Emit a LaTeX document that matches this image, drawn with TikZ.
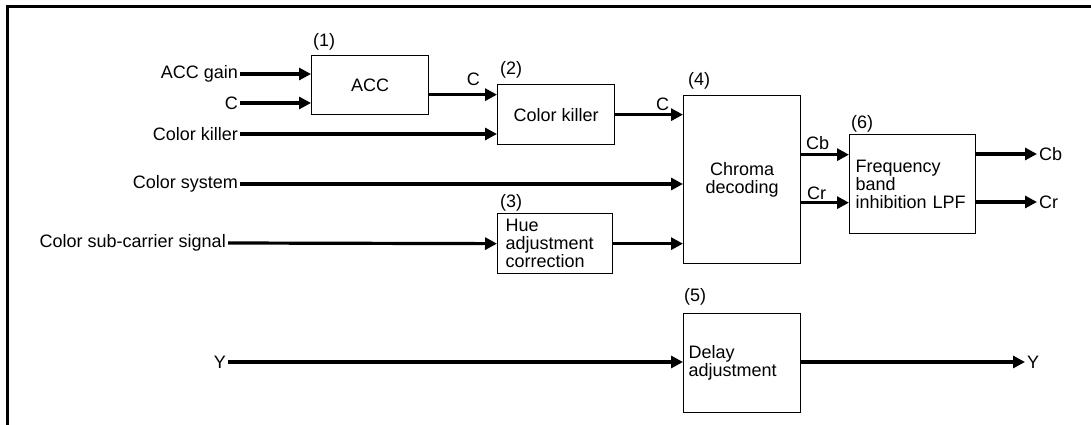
\documentclass[tikz,border=0pt]{standalone}
\usepackage{fontspec}
\setmainfont{Liberation Sans}
\usepackage{tikz}
\usetikzlibrary{positioning,arrows.meta}

\tikzset{
  blk/.style={draw, line width=1.3pt, inner sep=0pt, anchor=north west, align=center},
  blkl/.style={blk, inner xsep=6pt, align=left},
  sig/.style={line width=3.2pt, -{Triangle[length=12pt,width=12pt]}},
  inlbl/.style={anchor=east, inner sep=2pt},
  outlbl/.style={anchor=west, inner sep=2pt},
  numlbl/.style={anchor=south west, inner sep=0pt},
  wire/.style={inner sep=1pt}
}

\begin{document}
\begin{tikzpicture}[x=1pt, y=-1pt, font=\fontsize{18}{18}\selectfont]
  \useasboundingbox (0,0) rectangle (1091,425);
  % open frame
  \draw[line width=3pt] (7,425) -- (7,7) -- (1091,7);

  % blocks
  \node[blk, minimum width=117pt, minimum height=59pt] (acc) at (311,55) {ACC};
  \node[blk, minimum width=117pt, minimum height=60pt] (killer) at (497,84) {Color killer};
  \node[blkl, inner xsep=8pt, text width=99pt, minimum height=60pt] (hue) at (497,213)
    {Hue\\adjustment\\correction};
  \node[blk, minimum width=117pt, minimum height=168pt] (chroma) at (683,95) {Chroma\\decoding};
  \node[blkl, text width=114pt, minimum height=99pt] (lpf) at (849,134)
    {Frequency\\band\\inhibition LPF};
  \node[blkl, inner xsep=5pt, text width=107pt, minimum height=99pt] (delay) at (683,313)
    {Delay\\adjustment};

  % block numbers
  \node[numlbl] (n1) at ([xshift=2pt,yshift=5pt]acc.north west) {(1)};
  \node[numlbl] (n2) at ([xshift=3pt,yshift=6pt]killer.north west) {(2)};
  \node[numlbl] (n3) at ([xshift=3pt,yshift=2pt]hue.north west) {(3)};
  \node[numlbl] (n4) at ([xshift=5pt,yshift=6pt]chroma.north west) {(4)};
  \node[numlbl] (n5) at ([xshift=1pt,yshift=8pt]delay.north west) {(5)};
  \node[numlbl] (n6) at ([xshift=2pt,yshift=2pt]lpf.north west) {(6)};

  % inputs
  \node[inlbl] (gain) at (240,74) {ACC gain};
  \node[inlbl] (cin) at (240,103) {C};
  \node[inlbl] (kill) at (240,134) {Color killer};
  \node[inlbl] (sys) at (240,184) {Color system};
  \node[inlbl] (sub) at (228,243) {Color sub-carrier signal};
  \node[inlbl] (yin) at (228,362) {Y};

  % outputs
  \node[outlbl] (cbout) at (1037,154) {Cb};
  \node[outlbl] (crout) at (1037,202) {Cr};
  \node[outlbl] (yout) at (1025,362) {Y};

  \coordinate (accout) at ([yshift=-9.5pt]acc.east);
  \coordinate (cbsrc) at ([yshift=29.5pt]lpf.west -| chroma.east);
  \coordinate (crsrc) at ([yshift=-18.5pt]lpf.west -| chroma.east);

  \draw[sig] (gain.east) -- (acc.west |- gain.east);
  \draw[sig] (cin.east) -- (acc.west |- cin.east);
  \draw[sig] (kill.east) -- (killer.west |- kill.east);
  \draw[sig] (accout) -- node[wire, above=6pt, pos=0.65] (c1) {C} (accout -| killer.west);
  \draw[sig] (killer.east) -- node[wire, above=1pt, pos=0.7] (c2) {C} (chroma.west |- killer.east);
  \draw[sig] (sys.east) -- (chroma.west |- sys.east);
  \draw[sig] (sub.east) -- (hue.west);
  \draw[sig] (hue.east) -- (chroma.west |- hue.east);
  \draw[sig] (cbsrc) -- node[wire, above=2pt, pos=0.34] (cb) {Cb} (cbsrc -| lpf.west);
  \draw[sig] (crsrc) -- node[wire, above=0pt, pos=0.32] (cr) {Cr} (crsrc -| lpf.west);
  \draw[sig] (lpf.east |- cbout.west) -- (cbout.west);
  \draw[sig] (lpf.east |- crout.west) -- (crout.west);
  \draw[sig] (yin.east) -- (delay.west |- yin.east);
  \draw[sig] (delay.east |- yout.west) -- (yout.west);
\end{tikzpicture}
\end{document}
